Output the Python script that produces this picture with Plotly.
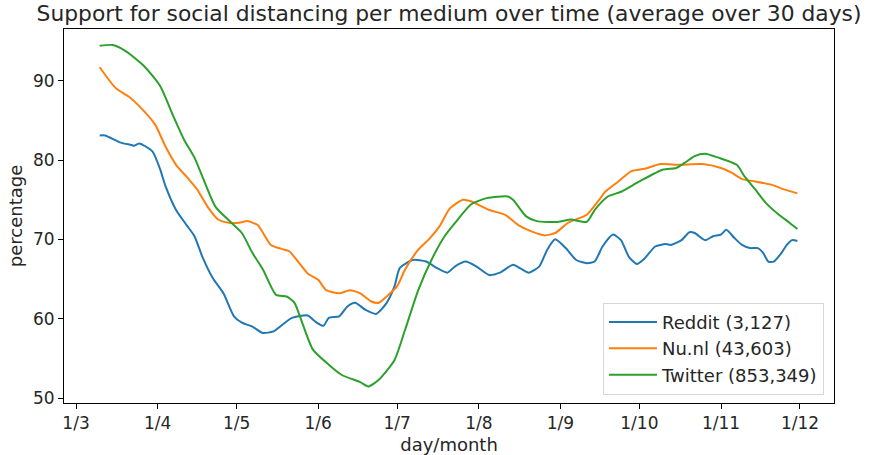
import plotly.graph_objects as go

# ---- data ----
reddit_dates = ["2020-03-10","2020-03-12","2020-03-18","2020-03-22","2020-03-23","2020-03-25","2020-03-30",
    "2020-04-02","2020-04-04","2020-04-08","2020-04-12","2020-04-15","2020-04-18","2020-04-22","2020-04-26","2020-04-30",
    "2020-05-03","2020-05-07","2020-05-11","2020-05-15","2020-05-19","2020-05-22","2020-05-28","2020-05-31",
    "2020-06-03","2020-06-05","2020-06-09","2020-06-12","2020-06-15","2020-06-19","2020-06-23","2020-06-27","2020-06-30",
    "2020-07-02","2020-07-07","2020-07-12","2020-07-16","2020-07-20","2020-07-23","2020-07-27","2020-07-31",
    "2020-08-05","2020-08-09","2020-08-14","2020-08-17","2020-08-20","2020-08-24","2020-08-27","2020-08-30",
    "2020-09-03","2020-09-07","2020-09-11","2020-09-14","2020-09-17","2020-09-21","2020-09-24","2020-09-27","2020-09-30",
    "2020-10-03","2020-10-07","2020-10-11","2020-10-13","2020-10-17","2020-10-20","2020-10-22","2020-10-26","2020-10-29",
    "2020-11-01","2020-11-03","2020-11-06","2020-11-09","2020-11-12","2020-11-15","2020-11-17","2020-11-19","2020-11-21",
    "2020-11-24","2020-11-26","2020-11-28","2020-11-30"]
reddit_values = [83.1,83.1,82.2,81.9,81.8,82.1,81.1,
    78.8,76.7,73.7,71.8,70.4,67.8,65.1,63.2,60.3,
    59.5,59.0,58.2,58.4,59.4,60.1,60.4,59.6,
    59.1,60.1,60.3,61.5,62.0,61.1,60.6,62.0,64.1,
    66.4,67.4,67.2,66.4,65.8,66.6,67.2,66.6,
    65.5,65.8,66.8,66.3,65.8,66.6,68.7,70.0,
    68.9,67.4,67.0,67.2,69.1,70.6,69.9,67.8,66.9,
    67.6,69.1,69.4,69.3,69.9,70.9,70.8,69.9,70.4,
    70.6,71.2,70.2,69.3,68.9,68.9,68.3,67.2,67.2,
    68.3,69.3,69.9,69.8]

nunl_dates = ["2020-03-10","2020-03-16","2020-03-21","2020-03-25","2020-03-31",
    "2020-04-04","2020-04-08","2020-04-12","2020-04-16","2020-04-20","2020-04-24","2020-04-28",
    "2020-05-02","2020-05-05","2020-05-09","2020-05-14","2020-05-18","2020-05-21","2020-05-28",
    "2020-06-01","2020-06-04","2020-06-09","2020-06-13","2020-06-17","2020-06-21","2020-06-24","2020-06-27",
    "2020-07-01","2020-07-04","2020-07-09","2020-07-13","2020-07-17","2020-07-21","2020-07-26","2020-07-29",
    "2020-08-05","2020-08-11","2020-08-16","2020-08-21","2020-08-26","2020-08-30",
    "2020-09-04","2020-09-11","2020-09-16","2020-09-18","2020-09-23","2020-09-28",
    "2020-10-03","2020-10-09","2020-10-16","2020-10-25",
    "2020-11-01","2020-11-05","2020-11-09","2020-11-14","2020-11-20","2020-11-25","2020-11-30"]
nunl_values = [91.7,89.1,88.0,86.8,84.5,
    81.7,79.4,77.9,76.3,74.1,72.5,72.1,
    72.1,72.3,71.8,69.3,68.8,68.5,65.7,
    64.9,63.6,63.2,63.6,63.2,62.2,62.0,62.8,
    64.1,66.2,68.7,70.0,71.6,73.9,75.0,74.8,
    73.7,73.1,71.8,71.0,70.5,70.8,
    72.1,73.1,75.1,76.0,77.3,78.6,
    78.9,79.5,79.4,79.5,
    79.0,78.4,77.6,77.3,76.9,76.3,75.8]

twitter_dates = ["2020-03-10","2020-03-15","2020-03-20","2020-03-27",
    "2020-04-02","2020-04-07","2020-04-11","2020-04-15","2020-04-19","2020-04-23","2020-04-29",
    "2020-05-03","2020-05-07","2020-05-11","2020-05-16","2020-05-20","2020-05-23","2020-05-26","2020-05-30",
    "2020-06-05","2020-06-10","2020-06-17","2020-06-20","2020-06-24","2020-06-30",
    "2020-07-04","2020-07-09","2020-07-14","2020-07-19","2020-07-24","2020-07-29",
    "2020-08-04","2020-08-12","2020-08-14","2020-08-19","2020-08-23","2020-08-31",
    "2020-09-05","2020-09-11","2020-09-14","2020-09-19","2020-09-24",
    "2020-10-01","2020-10-10","2020-10-15","2020-10-18","2020-10-22","2020-10-26","2020-10-31",
    "2020-11-07","2020-11-10","2020-11-14","2020-11-18","2020-11-23","2020-11-27","2020-11-30"]
twitter_values = [94.4,94.5,93.7,91.8,
    89.3,85.5,82.6,80.3,77.1,74.1,72.1,
    70.8,68.3,66.2,63.0,62.8,62.0,59.4,56.1,
    54.2,52.9,52.0,51.45,52.3,54.8,
    58.6,63.6,67.4,70.4,72.5,74.4,
    75.2,75.4,75.0,72.9,72.3,72.2,
    72.5,72.2,73.7,75.4,76.0,
    77.3,78.8,79.0,79.6,80.5,80.8,80.3,
    79.4,77.9,76.3,74.6,73.1,72.1,71.3]

series_names = ["Reddit (3,127)", "Nu.nl (43,603)", "Twitter (853,349)"]
series_colors = ["#1f77b4", "#ff7f0e", "#2ca02c"]

y_ticks = [50, 60, 70, 80, 90]

FONT = "DejaVu Sans"

fig = go.Figure()
for name, xs, ys, col in zip(series_names,
                             [reddit_dates, nunl_dates, twitter_dates],
                             [reddit_values, nunl_values, twitter_values],
                             series_colors):
    fig.add_trace(go.Scatter(x=xs, y=ys, mode="lines", name=name,
                             line=dict(color=col, width=2, shape="spline", smoothing=0.6)))

axis_common = dict(showline=True, linecolor="black", linewidth=1, mirror=True,
                   ticks="outside", ticklen=5, tickwidth=1, tickcolor="black",
                   showgrid=False, zeroline=False,
                   tickfont=dict(family=FONT, size=17, color="#262626"))

fig.update_layout(
    width=869, height=455,
    margin=dict(l=64, r=35, t=29, b=52, autoexpand=False),
    paper_bgcolor="white", plot_bgcolor="white",
    font=dict(family=FONT, color="#262626"),
    title=dict(text="Support for social distancing per medium over time (average over 30 days)",
               font=dict(family=FONT, size=21.8, color="#262626"),
               x=0.5, xref="paper", xanchor="center",
               y=1, yref="paper", yanchor="bottom", pad=dict(b=8)),
    xaxis=dict(type="date", range=["2020-02-25 10:30", "2020-12-13 22:00"],
               tick0="2020-03-01", dtick="M1", tickformat="%-d/%-m",
               title=dict(text="day/month", font=dict(family=FONT, size=18, color="#262626"), standoff=8),
               **axis_common),
    yaxis=dict(range=[49.37, 96.52], tickvals=y_ticks,
               title=dict(text="percentage", font=dict(family=FONT, size=18, color="#262626"), standoff=5),
               **axis_common),
    legend=dict(x=0.987, y=0.022, xanchor="right", yanchor="bottom",
                bgcolor="rgba(255,255,255,0.8)", bordercolor="#d6d6d6", borderwidth=1,
                itemwidth=48,
                font=dict(family=FONT, size=18, color="#262626")),
    showlegend=True,
)

fig.write_html("out.html", config={"displayModeBar": False},
               post_script="document.body.style.margin='0';document.body.style.padding='0';")
